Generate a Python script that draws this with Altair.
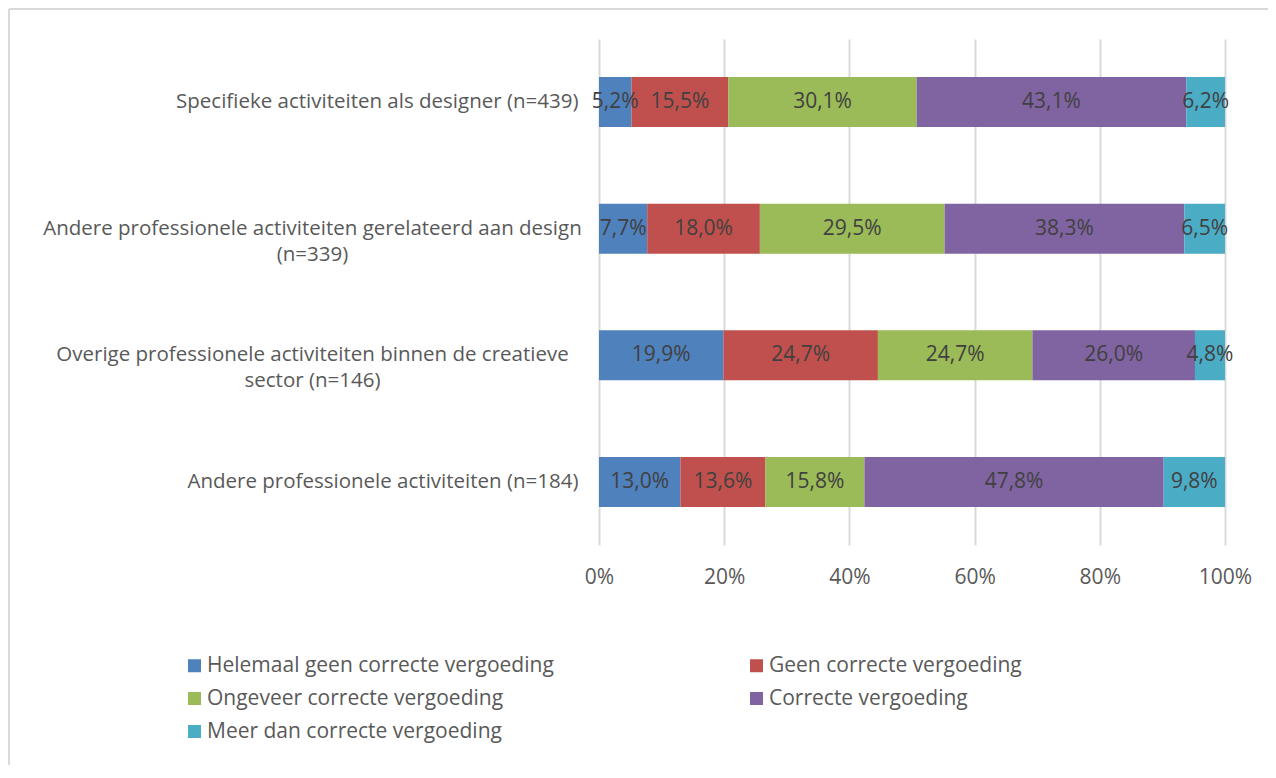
import altair as alt
import pandas as pd

# ---- data ----
categories = [
    "Specifieke activiteiten als designer (n=439)",
    "Andere professionele activiteiten gerelateerd aan design|(n=339)",
    "Overige professionele activiteiten binnen de creatieve|sector (n=146)",
    "Andere professionele activiteiten (n=184)",
]
series = [
    "Helemaal geen correcte vergoeding",
    "Geen correcte vergoeding",
    "Ongeveer correcte vergoeding",
    "Correcte vergoeding",
    "Meer dan correcte vergoeding",
]
helemaal_geen = [5.2, 7.7, 19.9, 13.0]
geen = [15.5, 18.0, 24.7, 13.6]
ongeveer = [30.1, 29.5, 24.7, 15.8]
correct = [43.1, 38.3, 26.0, 47.8]
meer_dan = [6.2, 6.5, 4.8, 9.8]
colors = ["#4F81BD", "#C0504D", "#9BBB59", "#8064A2", "#4BACC6"]
x_ticks = [0, 0.2, 0.4, 0.6, 0.8, 1.0]

values_by_series = [helemaal_geen, geen, ongeveer, correct, meer_dan]
rows = []
for i, (s, vals) in enumerate(zip(series, values_by_series)):
    for c, v in zip(categories, vals):
        rows.append({"cat": c, "serie": s, "order": i, "value": v})
df = pd.DataFrame(rows)

# legend fills column by column: order the entries so rows read like the reference
legend_order = [0, 2, 4, 1, 3]
legend_domain = [series[k] for k in legend_order]
legend_range = [colors[k] for k in legend_order]

FONT = "Open Sans"
GREY = "#595959"
Y_SCALE = alt.Scale(paddingInner=0.605, paddingOuter=0.3)

base = alt.Chart(df).transform_stack(
    stack="value",
    groupby=["cat"],
    sort=[alt.SortField("order", order="ascending")],
    as_=["x0", "x1"],
    offset="normalize",
).transform_calculate(
    mid="(datum.x0 + datum.x1) / 2",
    lbl="replace(format(datum.value, '.1f'), '.', ',') + '%'",
)

# single-line category labels: right aligned next to the plot
axis_single = alt.Axis(
    orient="left",
    labelExpr="indexof(datum.label, '|') >= 0 ? '' : datum.label",
    labelAlign="right",
    labelBaseline="middle",
    labelPadding=21,
    labelLimit=700,
    labelFontSize=20.5,
    labelFont=FONT,
    labelColor=GREY,
    domain=False,
    ticks=False,
    grid=False,
)
# wrapped category labels: lines centred on each other (as in the reference)
axis_wrapped = alt.Axis(
    orient="left",
    labelExpr="indexof(datum.label, '|') >= 0 ? split(datum.label, '|') : ''",
    labelAlign="center",
    labelBaseline="middle",
    labelPadding=287,
    labelLimit=700,
    labelLineHeight=26,
    labelFontSize=20.5,
    labelFont=FONT,
    labelColor=GREY,
    domain=False,
    ticks=False,
    grid=False,
)

bars = base.mark_bar().encode(
    y=alt.Y("cat:N", sort=categories, title=None, scale=Y_SCALE, axis=axis_single),
    x=alt.X(
        "x0:Q",
        title=None,
        scale=alt.Scale(domain=[0, 1], nice=False),
        axis=alt.Axis(
            values=x_ticks,
            format=".0%",
            domain=False,
            ticks=False,
            grid=True,
            gridColor="#d9d9d9",
            gridWidth=2,
            labelFlush=False,
            labelPadding=21,
            labelFontSize=21,
            labelFont=FONT,
            labelColor=GREY,
        ),
    ),
    x2="x1:Q",
    color=alt.Color(
        "serie:N",
        scale=alt.Scale(domain=legend_domain, range=legend_range),
        legend=alt.Legend(
            title=None,
            orient="none",
            legendX=-415,
            legendY=616,
            columns=2,
            columnPadding=192,
            rowPadding=11,
            symbolType="square",
            symbolSize=169,
            symbolStrokeWidth=0,
            labelOffset=2,
            labelFontSize=21,
            labelFont=FONT,
            labelColor=GREY,
            labelLimit=600,
            padding=0,
        ),
    ),
    order=alt.Order("order:Q"),
)

labels = base.mark_text(
    font=FONT, fontSize=21, color="#404040", align="center", baseline="middle"
).encode(
    y=alt.Y("cat:N", sort=categories, title=None, scale=Y_SCALE, axis=axis_wrapped),
    x=alt.X("mid:Q"),
    text="lbl:N",
)

# thin grey frame lines (top and left edge of the chart area)
frame = alt.Chart(alt.Data(values=[{}]))
frame_top = frame.mark_rule(color="#d9d9d9", strokeWidth=2).encode(
    x=alt.value(-590), x2=alt.value(669), y=alt.value(-30)
)
frame_left = frame.mark_rule(color="#d9d9d9", strokeWidth=2).encode(
    x=alt.value(-590), y=alt.value(-30), y2=alt.value(731)
)

chart = (
    alt.layer(bars, labels, frame_top, frame_left)
    .resolve_scale(y="shared")
    .resolve_axis(y="independent")
    .properties(
        width=626,
        height=506,
        padding={"left": 591, "top": 31, "right": 43, "bottom": 220},
        autosize=alt.AutoSizeParams(type="none"),
        background="white",
    )
    .configure_view(stroke=None)
)

chart.save("out.html", embed_options={"renderer": "svg", "actions": False})
